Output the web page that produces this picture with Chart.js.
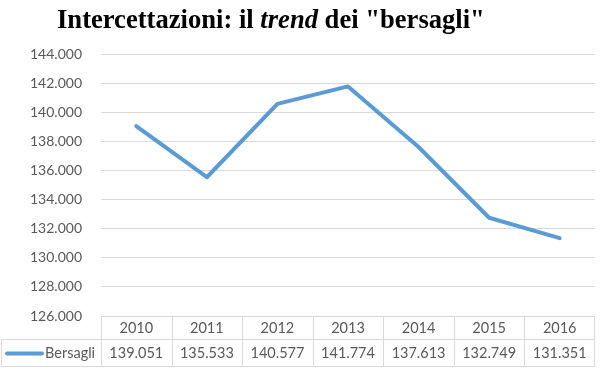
<!DOCTYPE html>
<html lang="it">
  <head>
    <meta charset="UTF-8" />
    <title>Intercettazioni: il trend dei "bersagli"</title>
    <script src="https://cdn.jsdelivr.net/npm/chart.js"></script>
    <style>
      html, body { margin: 0; padding: 0; background: #fff; }
      #wrap { width: 600px; height: 375px; }
    </style>
  </head>
  <body>
    <div id="wrap"><canvas id="chart" width="600" height="375"></canvas></div>
    <script>
      const anni = ["2010", "2011", "2012", "2013", "2014", "2015", "2016"];
      const bersagli = [139051, 135533, 140577, 141774, 137613, 132749, 131351];
      const serieNome = "Bersagli";
      const yMin = 126000;
      const yMax = 144000;
      const yStep = 2000;
      const titoloParti = [
        { testo: "Intercettazioni: il ", corsivo: false },
        { testo: "trend", corsivo: true },
        { testo: " dei \"bersagli\"", corsivo: false },
      ];

      const blu = "#5b9bd5";
      const grigio = "#595959";
      const bordo = "#d9d9d9";
      const fontTesto = "Lato, 'Open Sans', sans-serif";

      const fmt = (v) => v.toLocaleString("it-IT");

      // titolo con "trend" in corsivo
      const titoloPlugin = {
        id: "titolo",
        afterDraw(chart) {
          const ctx = chart.ctx;
          ctx.save();
          ctx.fillStyle = "#000";
          ctx.textBaseline = "alphabetic";
          ctx.textAlign = "left";
          let x = 57;
          titoloParti.forEach((p) => {
            ctx.font = (p.corsivo ? "italic " : "") + "bold 26.6px 'Liberation Serif', serif";
            ctx.fillText(p.testo, x, 28);
            x += ctx.measureText(p.testo).width;
          });
          ctx.restore();
        },
      };

      // tabella dati sotto il grafico, colonne prese dalla scala x
      const tabellaPlugin = {
        id: "tabella",
        afterDraw(chart) {
          const ctx = chart.ctx;
          const xs = chart.scales.x;
          const area = chart.chartArea;
          const top = area.bottom;
          const mid = top + 23;
          const bottom = top + 50;
          const half = (xs.getPixelForValue(1) - xs.getPixelForValue(0)) / 2;
          ctx.save();
          ctx.strokeStyle = bordo;
          ctx.lineWidth = 1;
          ctx.beginPath();
          ctx.moveTo(area.left, top + 0.5);
          ctx.lineTo(area.right, top + 0.5);
          ctx.moveTo(1, mid + 0.5);
          ctx.lineTo(area.right, mid + 0.5);
          ctx.moveTo(1, bottom + 0.5);
          ctx.lineTo(area.right, bottom + 0.5);
          ctx.moveTo(1.5, mid);
          ctx.lineTo(1.5, bottom);
          anni.forEach((a, i) => {
            const xl = Math.round(xs.getPixelForValue(i) - half) + 0.5;
            ctx.moveTo(xl, top);
            ctx.lineTo(xl, bottom);
          });
          ctx.moveTo(Math.round(area.right) - 0.5, top);
          ctx.lineTo(Math.round(area.right) - 0.5, bottom);
          ctx.stroke();

          ctx.fillStyle = grigio;
          ctx.font = "14.5px " + fontTesto;
          ctx.textAlign = "center";
          ctx.textBaseline = "middle";
          anni.forEach((a, i) => {
            const x = xs.getPixelForValue(i);
            ctx.fillText(a, x, (top + mid) / 2 + 1);
            ctx.fillText(fmt(bersagli[i]), x, (mid + bottom) / 2 + 1);
          });

          // legenda nella cella di sinistra
          const ly = (mid + bottom) / 2 + 1;
          ctx.strokeStyle = blu;
          ctx.lineWidth = 4;
          ctx.lineCap = "round";
          ctx.beginPath();
          ctx.moveTo(7, ly);
          ctx.lineTo(42, ly);
          ctx.stroke();
          ctx.textAlign = "left";
          ctx.fillText(serieNome, 45, ly);
          ctx.restore();
        },
      };

      new Chart(document.getElementById("chart"), {
        type: "line",
        data: {
          labels: anni,
          datasets: [
            {
              label: serieNome,
              data: bersagli,
              borderColor: blu,
              borderWidth: 4,
              pointRadius: 0,
              tension: 0,
              borderJoinStyle: "round",
              borderCapStyle: "round",
            },
          ],
        },
        options: {
          responsive: false,
          animation: false,
          layout: { padding: { top: 54, bottom: 59, left: 0, right: 5 } },
          plugins: {
            legend: { display: false },
            title: { display: false },
            tooltip: { enabled: false },
          },
          scales: {
            x: {
              display: false,
              offset: true,
            },
            y: {
              min: yMin,
              max: yMax,
              afterFit: (s) => { s.width = 101; },
              border: { display: false },
              grid: { color: bordo, drawTicks: false },
              ticks: {
                stepSize: yStep,
                padding: 19,
                color: grigio,
                font: { family: fontTesto, size: 14 },
                callback: (v) => fmt(v),
              },
            },
          },
        },
        plugins: [titoloPlugin, tabellaPlugin],
      });
    </script>
  </body>
</html>
